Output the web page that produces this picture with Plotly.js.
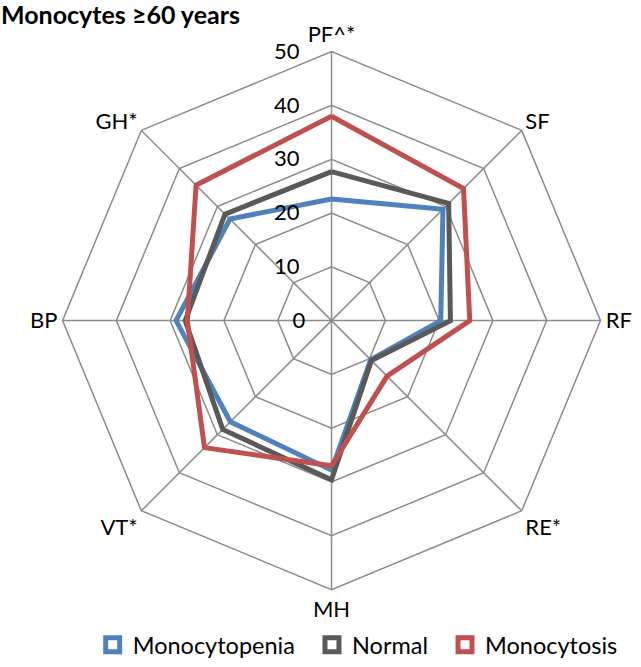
<!DOCTYPE html>
<html><head><meta charset="utf-8">
<script src="https://cdn.plot.ly/plotly-3.0.1.min.js"></script>
<style>html,body{margin:0;padding:0;background:#fff}#chart{width:641px;height:667px}</style>
</head><body><div id="chart"></div>
<script>
const categories = ["PF^*", "SF", "RF", "RE*", "MH", "VT*", "BP", "GH*"];
const monocytopenia = [22.6, 29.3, 20.3, 10.3, 27.8, 26.6, 28.9, 26.7];
const normal = [27.7, 30.8, 22.1, 10.5, 29.6, 28.6, 27.2, 28.0];
const monocytosis = [38.0, 34.7, 25.7, 14.6, 27.0, 33.4, 26.8, 35.6];
const seriesNames = ["Monocytopenia", "Normal", "Monocytosis"];
const colors = ["#4F81BD", "#595959", "#C0504D"];
const radialTicks = [0, 10, 20, 30, 40, 50];

const NB = "\u00a0";
const allSeries = [monocytopenia, normal, monocytosis];
const traces = [];
allSeries.forEach((vals, i) => {
  traces.push({
    type: "scatterpolar", mode: "lines",
    r: vals.concat([vals[0]]), theta: categories.concat([categories[0]]),
    line: {color: colors[i], width: 5}, showlegend: false, hoverinfo: "r+theta"
  });
});
allSeries.forEach((vals, i) => {
  traces.push({
    type: "scatterpolar", mode: "markers", r: [null], theta: [categories[0]],
    name: seriesNames[i] + (i < 2 ? NB.repeat(2) : ""),
    marker: {symbol: "square-open", size: 14, color: colors[i], line: {color: colors[i], width: 5}},
    showlegend: true
  });
});

const layout = {
  width: 641, height: 667,
  margin: {l: 0, r: 0, t: 0, b: 0},
  paper_bgcolor: "#fff",
  font: {family: "Lato, 'Open Sans', sans-serif", color: "#000", size: 22},
  title: {text: "<b>Monocytes ≥60 years</b>", x: 0, xanchor: "left", xref: "paper", y: 0.99, yanchor: "top", font: {size: 25, family: "Lato, sans-serif", color: "#000"}, pad: {l: 1}},
  polar: {
    domain: {x: [0.0944, 0.9400], y: [0.1094, 0.922]},
    gridshape: "linear",
    bgcolor: "#fff",
    angularaxis: {
      rotation: 90, direction: "clockwise",
      categoryorder: "array", categoryarray: categories,
      showline: true, linecolor: "#8c8c8c", linewidth: 1.5,
      gridcolor: "#8c8c8c", gridwidth: 1.5,
      ticks: "", tickfont: {size: 22}
    },
    radialaxis: {
      range: [0, 50], tickvals: radialTicks,
      ticktext: radialTicks.map(v => String(v) + NB.repeat(v === 0 ? 4 : 5)),
      angle: 90, tickangle: 90, side: "counterclockwise",
      showline: false, ticks: "", gridcolor: "#8c8c8c", gridwidth: 1.5,
      tickfont: {size: 22}
    }
  },
  legend: {orientation: "h", x: 0.558, xanchor: "center", y: -0.008, yanchor: "bottom", font: {size: 23.5}, itemwidth: 30, traceorder: "normal"},
  showlegend: true
};
Plotly.newPlot("chart", traces, layout, {staticPlot: true});
</script></body></html>
